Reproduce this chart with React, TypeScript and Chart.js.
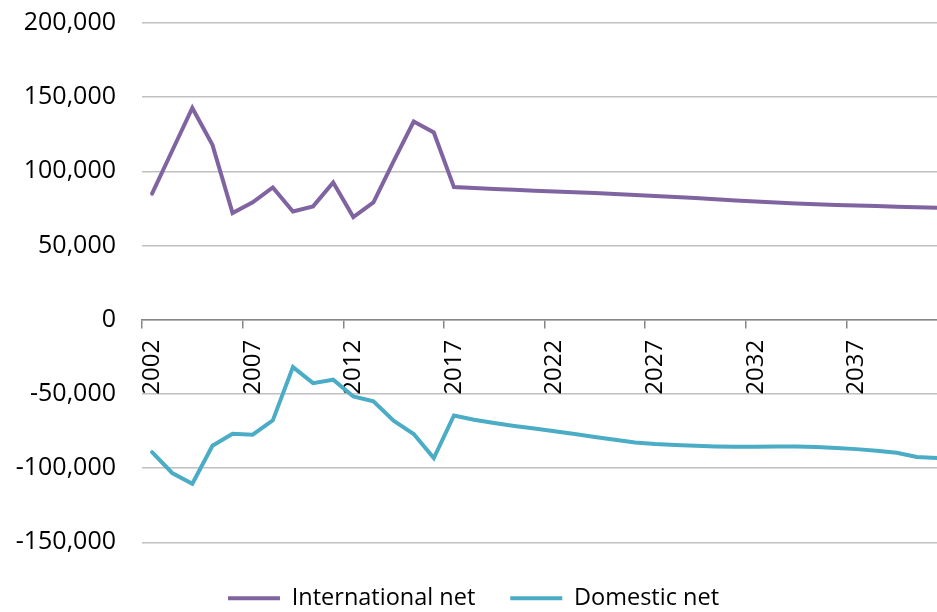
import React, { useEffect, useRef } from "react";
import { Chart, registerables } from "chart.js";

Chart.register(...registerables);

const years: string[] = [
  "2002","2003","2004","2005","2006","2007","2008","2009","2010","2011",
  "2012","2013","2014","2015","2016","2017","2018","2019","2020","2021",
  "2022","2023","2024","2025","2026","2027","2028","2029","2030","2031",
  "2032","2033","2034","2035","2036","2037","2038","2039","2040","2041",
];

const internationalNet: number[] = [
  85000, 113900, 142700, 117900, 71900, 79100, 89200, 73000, 76400, 92500,
  69200, 79100, 106700, 133600, 126200, 89400, 88800, 88200, 87600, 87000,
  86400, 85900, 85400, 84800, 84100, 83400, 82700, 82000, 81200, 80400,
  79700, 79000, 78400, 77900, 77400, 77000, 76600, 76200, 75800, 75500,
];

const domesticNet: number[] = [
  -89200, -103300, -110500, -84900, -76800, -77500, -67800, -31900, -42700, -40400,
  -51700, -55000, -68100, -77000, -93200, -64500, -67400, -69600, -71600, -73300,
  -75200, -77000, -79000, -80900, -82700, -83800, -84500, -85000, -85400, -85600,
  -85600, -85400, -85400, -85800, -86500, -87200, -88300, -89700, -92500, -93200,
];

const yMin = -150000;
const yMax = 200000;
const yStep = 50000;

const FONT = "'Open Sans', 'Noto Sans', sans-serif";

export default function App() {
  const ref = useRef<HTMLCanvasElement | null>(null);

  useEffect(() => {
    if (!ref.current) return;
    const chart = new Chart(ref.current, {
      type: "line",
      data: {
        labels: years,
        datasets: [
          {
            label: "International net",
            data: internationalNet,
            borderColor: "#8064A2",
            backgroundColor: "#8064A2",
            borderWidth: 4,
            pointRadius: 0,
            tension: 0,
            borderCapStyle: "round",
          },
          {
            label: "Domestic net",
            data: domesticNet,
            borderColor: "#4BACC6",
            backgroundColor: "#4BACC6",
            borderWidth: 4,
            pointRadius: 0,
            tension: 0,
            borderCapStyle: "round",
          },
        ],
      },
      options: {
        animation: false,
        responsive: false,
        layout: { padding: { top: 23, bottom: -8, left: 0, right: 0 } },
        plugins: {
          tooltip: { enabled: false },
          legend: {
            position: "bottom",
            title: { display: true, text: "", font: { size: 1 }, padding: { top: 8, bottom: 0 } },
            labels: {
              usePointStyle: true,
              pointStyle: "line",
              pointStyleWidth: 52,
              boxHeight: 4,
              padding: 35,
              color: "#000",
              font: { family: FONT, size: 23.5 },
            },
          },
        },
        scales: {
          x: {
            position: { y: 0 },
            offset: true,
            afterFit: (s: any) => {
              s.paddingLeft = 0;
              s.paddingRight = 0;
            },
            grid: {
              offset: true,
              drawOnChartArea: false,
              drawTicks: true,
              tickLength: 8,
              lineWidth: 1.5,
              color: (ctx: any) => (ctx.index % 5 === 0 ? "#868686" : "rgba(0,0,0,0)"),
              tickColor: (ctx: any) => (ctx.index % 5 === 0 ? "#868686" : "rgba(0,0,0,0)"),
            },
            border: { display: true, color: "#868686", width: 1.5 },
            ticks: {
              autoSkip: false,
              maxRotation: 90,
              minRotation: 90,
              padding: 12,
              color: "#000",
              font: { family: FONT, size: 24 },
              callback: (_v: any, i: number) => (i % 5 === 0 ? years[i] : ""),
            },
          },
          y: {
            min: yMin,
            max: yMax,
            afterFit: (s: any) => {
              s.width = 142;
              s.paddingTop = 0;
              s.paddingBottom = 0;
            },
            grid: {
              drawTicks: false,
              lineWidth: 1.5,
              color: "#c0c0c0",
            },
            border: { display: false },
            ticks: {
              stepSize: yStep,
              padding: 26,
              color: "#000",
              font: { family: FONT, size: 25 },
              callback: (v: any) => Number(v).toLocaleString("en-US"),
            },
          },
        },
      },
    });
    return () => chart.destroy();
  }, []);

  return (
    <div style={{ position: "fixed", left: 0, top: 0, width: 937, height: 612, overflow: "hidden", background: "#fff" }}>
      <canvas ref={ref} width={947} height={612} style={{ display: "block" }} />
    </div>
  );
}
